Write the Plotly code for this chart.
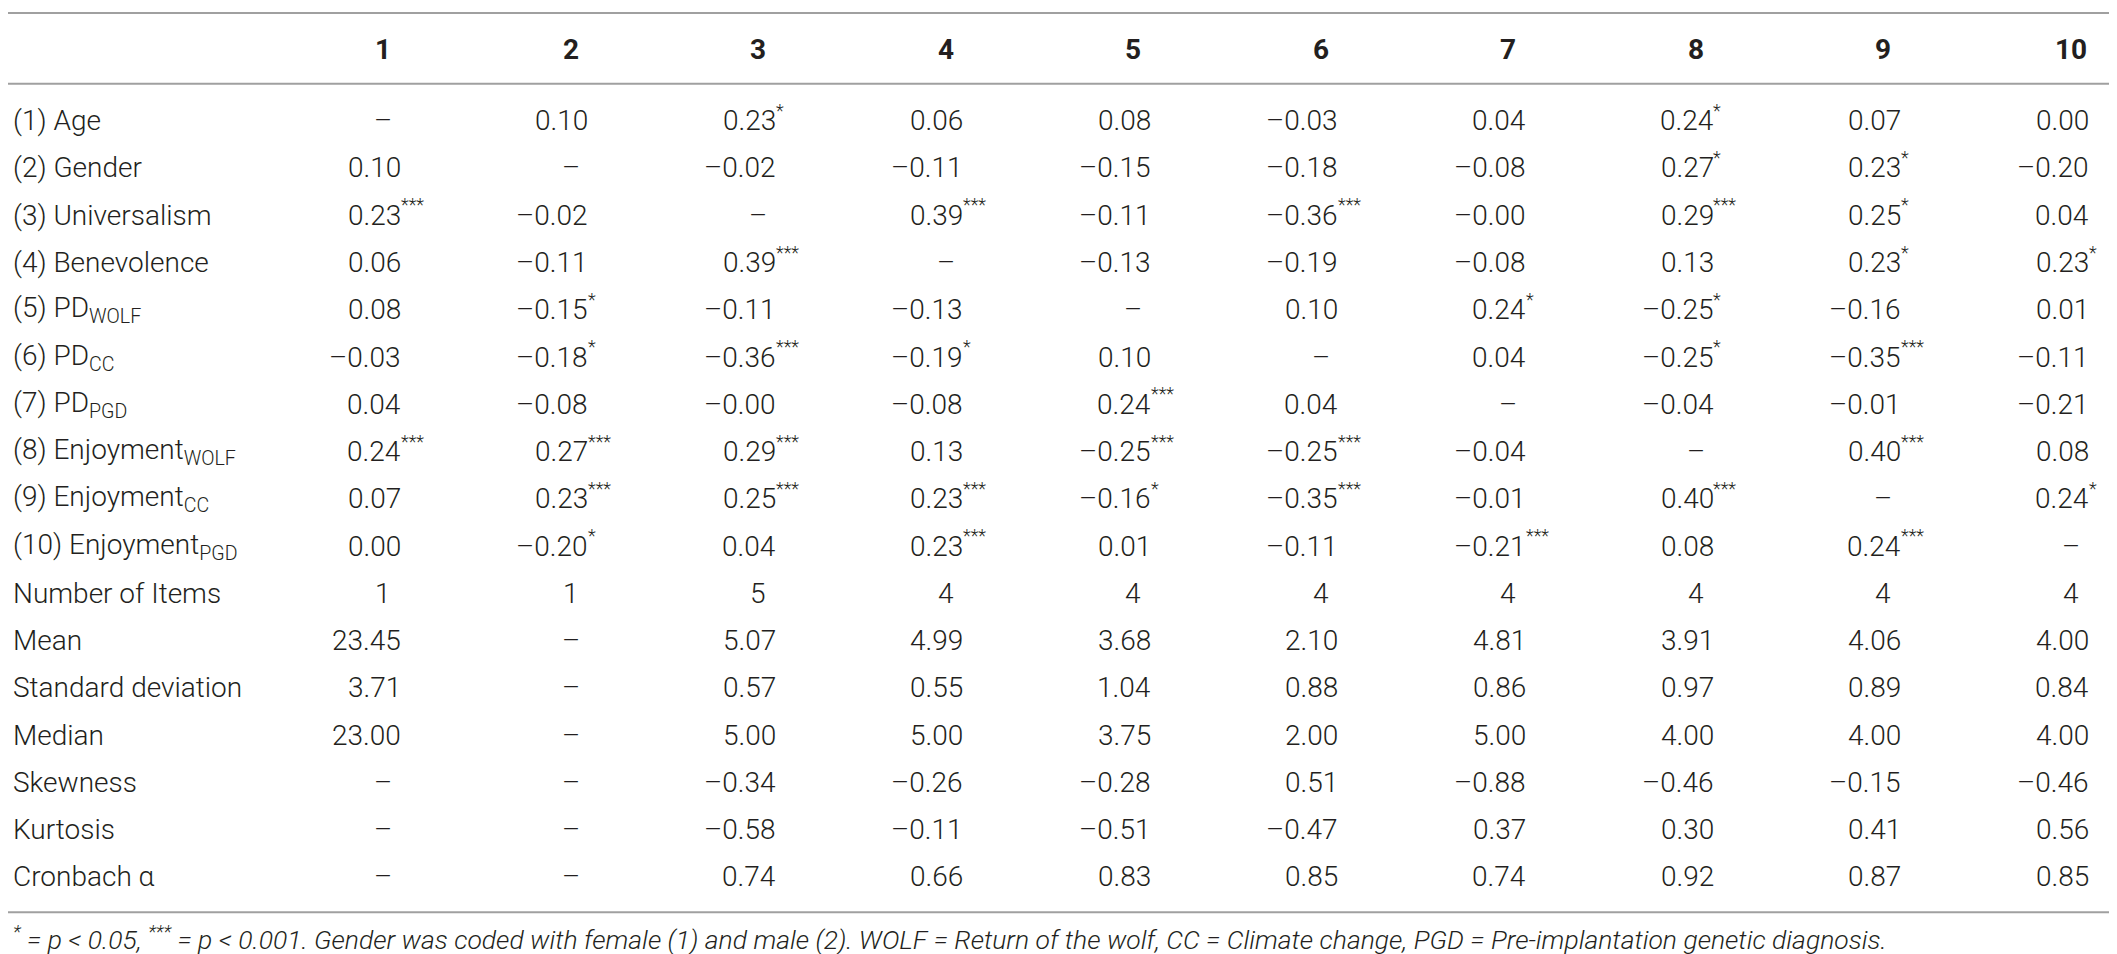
import plotly.graph_objects as go

# column headers and row labels
col_labels = ['1', '2', '3', '4', '5', '6', '7', '8', '9', '10']
row_labels = [
    '(1) Age', '(2) Gender', '(3) Universalism', '(4) Benevolence',
    '(5) PD<sub>WOLF</sub>', '(6) PD<sub>CC</sub>', '(7) PD<sub>PGD</sub>',
    '(8) Enjoyment<sub>WOLF</sub>', '(9) Enjoyment<sub>CC</sub>',
    '(10) Enjoyment<sub>PGD</sub>',
    'Number of Items', 'Mean', 'Standard deviation', 'Median',
    'Skewness', 'Kurtosis', 'Cronbach α',
]

# correlations (as printed), '–' on the diagonal
corr = [
    ['–', '0.10', '0.23', '0.06', '0.08', '–0.03', '0.04', '0.24', '0.07', '0.00'],
    ['0.10', '–', '–0.02', '–0.11', '–0.15', '–0.18', '–0.08', '0.27', '0.23', '–0.20'],
    ['0.23', '–0.02', '–', '0.39', '–0.11', '–0.36', '–0.00', '0.29', '0.25', '0.04'],
    ['0.06', '–0.11', '0.39', '–', '–0.13', '–0.19', '–0.08', '0.13', '0.23', '0.23'],
    ['0.08', '–0.15', '–0.11', '–0.13', '–', '0.10', '0.24', '–0.25', '–0.16', '0.01'],
    ['–0.03', '–0.18', '–0.36', '–0.19', '0.10', '–', '0.04', '–0.25', '–0.35', '–0.11'],
    ['0.04', '–0.08', '–0.00', '–0.08', '0.24', '0.04', '–', '–0.04', '–0.01', '–0.21'],
    ['0.24', '0.27', '0.29', '0.13', '–0.25', '–0.25', '–0.04', '–', '0.40', '0.08'],
    ['0.07', '0.23', '0.25', '0.23', '–0.16', '–0.35', '–0.01', '0.40', '–', '0.24'],
    ['0.00', '–0.20', '0.04', '0.23', '0.01', '–0.11', '–0.21', '0.08', '0.24', '–'],
]
# significance stars for each correlation
sig = [
    ['', '', '*', '', '', '', '', '*', '', ''],
    ['', '', '', '', '', '', '', '*', '*', ''],
    ['***', '', '', '***', '', '***', '', '***', '*', ''],
    ['', '', '***', '', '', '', '', '', '*', '*'],
    ['', '*', '', '', '', '', '*', '*', '', ''],
    ['', '*', '***', '*', '', '', '', '*', '***', ''],
    ['', '', '', '', '***', '', '', '', '', ''],
    ['***', '***', '***', '', '***', '***', '', '', '***', ''],
    ['', '***', '***', '***', '*', '***', '', '***', '', '*'],
    ['', '*', '', '***', '', '', '***', '', '***', ''],
]

n_items = ['1', '1', '5', '4', '4', '4', '4', '4', '4', '4']
mean = ['23.45', '–', '5.07', '4.99', '3.68', '2.10', '4.81', '3.91', '4.06', '4.00']
sd = ['3.71', '–', '0.57', '0.55', '1.04', '0.88', '0.86', '0.97', '0.89', '0.84']
median = ['23.00', '–', '5.00', '5.00', '3.75', '2.00', '5.00', '4.00', '4.00', '4.00']
skewness = ['–', '–', '–0.34', '–0.26', '–0.28', '0.51', '–0.88', '–0.46', '–0.15', '–0.46']
kurtosis = ['–', '–', '–0.58', '–0.11', '–0.51', '–0.47', '0.37', '0.30', '0.41', '0.56']
alpha = ['–', '–', '0.74', '0.66', '0.83', '0.85', '0.74', '0.92', '0.87', '0.85']

footnote = ('<sup>*</sup> = <i>p</i> &lt; 0.05, <sup>***</sup> = <i>p</i> &lt; 0.001. '
            'Gender was coded with female (1) and male (2). WOLF = Return of the wolf, '
            'CC = Climate change, PGD = Pre-implantation genetic diagnosis.')

stat_rows = [n_items, mean, sd, median, skewness, kurtosis, alpha]
cells = [list(zip(r, s)) for r, s in zip(corr, sig)]
cells += [[(v, '') for v in r] for r in stat_rows]

FONT = 'Roboto'
TXT = '#231f20'
SIZE = 28
NUM_OFF = 0.105   # right edge of the digits, in column units from the column centre

fig = go.Figure()
ann = []

# header
for j, lab in enumerate(col_labels, start=1):
    ann.append(dict(x=j, y=-0.5, text=lab, showarrow=False, xanchor='center',
                    font=dict(family=FONT, size=SIZE, color=TXT, weight='bold')))

# body
for i, (lab, row) in enumerate(zip(row_labels, cells), start=1):
    ann.append(dict(x=-0.985, y=i, text=lab, showarrow=False, xanchor='left',
                    font=dict(family=FONT, size=SIZE, color=TXT, weight=300)))
    for j, (val, stars) in enumerate(row, start=1):
        if val == '–' or '.' not in val:
            ann.append(dict(x=j, y=i, text=val, showarrow=False, xanchor='center',
                            font=dict(family=FONT, size=SIZE, color=TXT, weight=300)))
        else:
            ann.append(dict(x=j + NUM_OFF, y=i, text=val, showarrow=False, xanchor='right',
                            font=dict(family=FONT, size=SIZE, color=TXT, weight=300)))
            if stars:
                ann.append(dict(x=j + NUM_OFF - 0.022, y=i - 0.22, text=stars,
                                showarrow=False, xanchor='left',
                                font=dict(family=FONT, size=18, color=TXT, weight=300)))

ann.append(dict(x=-0.985, y=18.3, text=footnote, showarrow=False, xanchor='left',
                font=dict(family=FONT, size=26.5, color=TXT, weight=300, style='italic')))

# rules
shapes = []
for yy in [-1.28, 0.22, 17.75]:
    shapes.append(dict(type='line', xref='paper', x0=0, x1=0.998, y0=yy, y1=yy,
                       line=dict(color='#a0a0a0', width=2)))

fig.add_trace(go.Scatter(x=[], y=[]))
fig.update_layout(
    width=2117, height=954,
    margin=dict(l=0, r=0, t=0, b=0),
    paper_bgcolor='white', plot_bgcolor='white',
    showlegend=False,
    annotations=ann, shapes=shapes,
    xaxis=dict(range=[-0.9993, 10.288], visible=False, fixedrange=True),
    yaxis=dict(range=[18.8, -1.384], visible=False, fixedrange=True),
)

fig.write_html('out.html')
